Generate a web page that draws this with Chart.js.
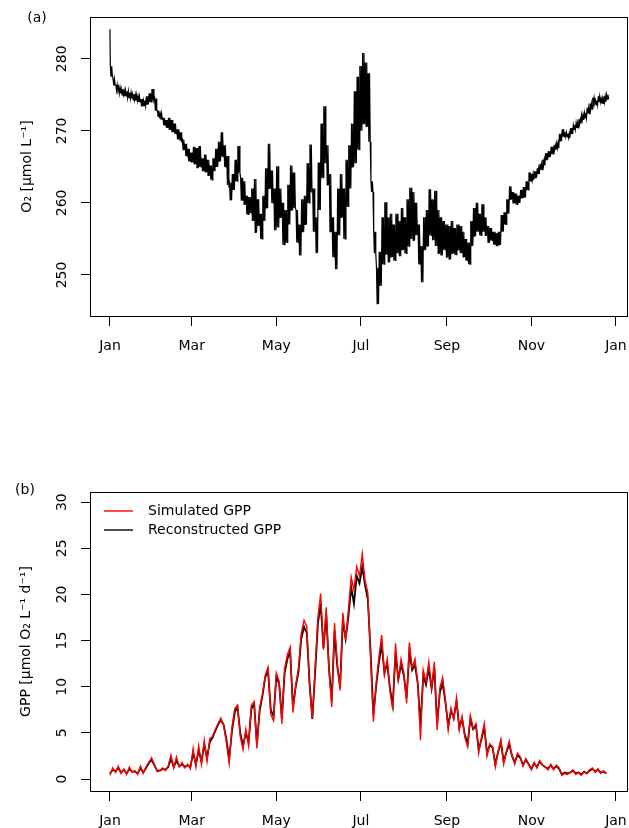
<!DOCTYPE html>
<html>
<head>
<meta charset="utf-8">
<script src="https://cdn.jsdelivr.net/npm/chart.js@4.4.1/dist/chart.umd.min.js"></script>
<style>
  body { margin: 0; background: #fff; }
  .panel { position: absolute; left: 0; width: 629px; height: 414px; }
</style>
</head>
<body>
<div class="panel" style="top:0"><canvas id="chart-o2" width="629" height="414"></canvas></div>
<div class="panel" style="top:414px"><canvas id="chart-gpp" width="629" height="414"></canvas></div>
<script>
/* =============================================
   O2 time series (a) and daily GPP (b)
   ============================================= */

// day-of-year of the month ticks and their labels
const monthTicks = [0, 59, 120, 181, 243, 304, 365];
const monthLabels = ['Jan', 'Mar', 'May', 'Jul', 'Sep', 'Nov', 'Jan'];
const o2Ticks = [250, 260, 270, 280];
const gppTicks = [0, 5, 10, 15, 20, 25, 30];

// values are read every 2 days
const sampleStepDays = 2;

// (a) first O2 reading, then high / low of the diel swing (µmol/L), days 0, 2, 4, ...
const o2Start = 284.1;
const o2High = [
  279.0, 277.2, 276.4, 276.0, 275.8, 275.6, 275.5, 275.3, 275.1, 275.0,
  274.8, 274.4, 274.2, 274.8, 275.2, 275.8, 274.5, 272.8, 272.4, 271.8,
  271.5, 271.8, 271.5, 271.0, 270.2, 269.8, 268.8, 268.2, 267.5, 267.0,
  267.8, 267.6, 267.9, 266.2, 266.7, 266.0, 265.2, 266.2, 267.5, 268.5,
  269.8, 268.0, 266.5, 262.8, 264.0, 266.0, 267.9, 263.5, 263.0, 261.0,
  260.8, 262.0, 263.3, 260.5, 258.5, 261.0, 264.8, 268.2, 264.5, 262.0,
  265.1, 262.0, 260.0, 259.0, 262.5, 265.2, 264.2, 259.0, 257.0, 260.5,
  261.0, 265.5, 268.1, 262.0, 258.0, 265.6, 271.0, 273.4, 268.0, 264.0,
  258.0, 256.0, 262.0, 264.0, 262.0, 266.0, 268.0, 271.0, 275.5, 277.5,
  279.0, 280.8, 279.5, 278.0, 263.0, 256.0, 251.0, 253.2, 258.0, 260.1,
  258.0, 258.5, 257.0, 258.5, 257.5, 259.3, 258.0, 260.5, 262.1, 261.5,
  260.0, 257.0, 254.0, 258.0, 259.0, 261.9, 260.5, 261.7, 259.0, 258.0,
  257.5, 257.0, 256.8, 257.5, 256.5, 257.0, 256.8, 256.0, 255.0, 254.5,
  257.5, 259.3, 260.0, 258.5, 259.8, 258.0, 256.8, 256.5, 256.0, 255.8,
  256.0, 258.3, 258.7, 260.5, 262.3, 261.5, 261.3, 261.0, 261.8, 262.2,
  263.0, 264.2, 264.0, 264.4, 264.8, 265.4, 266.0, 266.9, 267.2, 267.8,
  268.0, 268.3, 269.6, 270.2, 269.8, 269.6, 270.4, 270.8, 271.1, 271.6,
  272.2, 272.5, 273.2, 273.8, 274.6, 274.2, 274.8, 274.5, 274.8, 275.0
];
const o2Low = [
  277.6, 276.3, 275.6, 275.2, 275.0, 274.8, 274.6, 274.5, 274.3, 274.2,
  274.0, 273.4, 273.5, 273.7, 274.0, 274.2, 272.8, 272.0, 271.6, 270.8,
  270.4, 270.2, 269.8, 269.6, 268.8, 268.6, 267.4, 266.5, 265.8, 265.6,
  265.4, 264.8, 265.0, 264.4, 264.3, 263.8, 263.2, 264.4, 265.0, 265.8,
  266.4, 265.0, 262.5, 260.4, 261.8, 263.0, 264.2, 260.3, 259.8, 258.4,
  258.6, 257.5, 255.9, 256.8, 255.0, 257.5, 259.3, 262.0, 260.0, 256.2,
  256.6, 258.0, 254.2, 254.5, 257.0, 259.0, 259.3, 254.5, 252.7, 256.0,
  257.0, 260.0, 261.5, 256.0, 253.1, 259.0, 263.5, 265.5, 262.5, 256.0,
  252.5, 250.8, 255.5, 258.0, 255.0, 259.5, 262.0, 265.0, 265.5, 267.4,
  270.0, 271.0, 270.6, 268.5, 261.5, 253.0, 246.0, 248.5, 251.5, 252.8,
  251.8, 252.5, 252.0, 253.0, 252.6, 253.5, 253.0, 254.0, 255.0, 254.8,
  255.5, 251.5, 249.0, 253.5, 254.0, 255.5, 254.8, 254.0, 253.0, 252.7,
  253.5, 252.4, 252.2, 253.0, 252.8, 253.4, 253.0, 252.5, 252.0, 251.5,
  254.0, 255.4, 256.0, 255.5, 256.0, 255.5, 254.5, 254.8, 254.2, 254.0,
  254.2, 256.0, 257.0, 258.5, 260.5, 260.0, 259.8, 260.0, 260.6, 260.8,
  261.8, 263.0, 263.2, 263.5, 264.0, 264.6, 265.2, 266.0, 266.4, 266.8,
  267.4, 267.6, 268.6, 269.2, 269.2, 269.0, 269.6, 270.2, 270.4, 271.0,
  271.5, 271.8, 272.4, 273.0, 273.8, 273.6, 274.0, 273.8, 274.0, 274.4
];

// (b) GPP (µmol O2/L/d), days 0, 2, 4, ...
const gppSimulated = [
  0.4, 1.2, 0.7, 1.4, 0.6, 1.1, 0.5, 1.3, 0.7, 0.9,
  0.5, 1.4, 0.6, 1.3, 1.8, 2.3, 1.6, 0.8, 0.9, 1.2,
  0.9, 1.4, 2.6, 1.2, 2.4, 1.3, 1.8, 1.2, 1.6, 1.1,
  3.3, 1.3, 3.6, 1.6, 4.2, 1.9, 4.4, 4.6, 5.4, 6.0,
  6.6, 5.8, 4.0, 1.7, 5.6, 7.6, 8.0, 4.6, 3.2, 5.4,
  3.6, 8.0, 8.4, 3.3, 7.8, 9.2, 11.2, 12.1, 7.0, 6.3,
  11.5, 10.6, 6.0, 12.0, 13.5, 14.3, 7.2, 10.2, 12.0, 15.8,
  17.2, 16.5, 10.0, 6.6, 12.0, 17.5, 20.1, 14.0, 18.6, 11.8,
  7.8, 16.9, 12.5, 9.6, 18.0, 15.0, 18.3, 21.9, 20.5, 23.0,
  22.0, 24.4, 21.5, 20.2, 13.2, 6.2, 10.3, 13.2, 15.6, 11.3,
  13.0, 9.5, 7.5, 14.7, 10.6, 13.0, 11.5, 8.2, 14.8, 12.0,
  13.0, 10.5, 4.2, 11.8, 10.5, 12.7, 9.9, 12.7, 5.3, 9.9,
  11.0, 8.5, 5.3, 7.7, 6.5, 8.8, 5.3, 6.8, 4.5, 3.5,
  6.9, 5.5, 6.0, 2.8, 4.5, 6.0, 2.5, 3.8, 3.5, 1.3,
  3.0, 4.3, 1.6, 3.0, 4.1, 2.5, 1.6, 2.8, 2.4, 1.4,
  2.2, 1.6, 1.0, 1.8, 1.2, 2.0, 1.5, 1.3, 1.0, 1.6,
  1.0, 1.5, 1.2, 0.4, 0.6, 0.5, 0.7, 1.0, 0.5, 0.7,
  0.4, 0.8, 0.6, 1.0, 1.2, 0.7, 1.1, 0.6, 0.9, 0.6
];
const gppReconstructed = [
  0.6, 1.0, 0.8, 1.2, 0.7, 1.0, 0.6, 1.1, 0.8, 0.8,
  0.6, 1.2, 0.7, 1.2, 1.7, 2.1, 1.5, 0.9, 0.9, 1.1,
  1.0, 1.3, 2.2, 1.3, 2.0, 1.4, 1.6, 1.3, 1.5, 1.3,
  2.8, 1.6, 3.1, 1.9, 3.7, 2.3, 4.0, 4.5, 5.2, 5.9,
  6.4, 5.9, 4.3, 2.2, 5.2, 7.2, 7.8, 5.0, 3.6, 5.0,
  4.0, 7.6, 8.1, 3.8, 7.4, 9.0, 11.0, 11.8, 7.5, 6.8,
  11.0, 10.4, 6.6, 11.5, 13.0, 13.8, 7.8, 10.0, 11.6, 15.2,
  16.5, 15.8, 10.4, 6.5, 11.5, 16.8, 19.0, 14.2, 17.8, 12.0,
  8.5, 16.0, 12.2, 10.0, 17.2, 15.2, 17.6, 20.8, 19.0, 22.0,
  21.2, 23.0, 21.0, 19.5, 13.8, 7.0, 10.0, 12.6, 14.6, 11.5,
  12.5, 9.8, 8.0, 13.6, 10.8, 12.4, 11.2, 8.8, 13.8, 11.8,
  12.4, 10.4, 5.8, 11.2, 10.2, 12.0, 9.8, 12.0, 6.0, 9.4,
  10.4, 8.3, 5.8, 7.4, 6.6, 8.4, 5.6, 6.5, 4.8, 3.8,
  6.5, 5.4, 5.8, 3.2, 4.3, 5.6, 2.8, 3.7, 3.4, 1.6,
  2.9, 4.0, 1.9, 2.9, 3.8, 2.5, 1.8, 2.6, 2.3, 1.5,
  2.1, 1.6, 1.1, 1.7, 1.3, 1.9, 1.5, 1.3, 1.1, 1.5,
  1.1, 1.4, 1.1, 0.5, 0.7, 0.6, 0.7, 0.9, 0.6, 0.7,
  0.5, 0.8, 0.6, 0.9, 1.1, 0.8, 1.0, 0.7, 0.8, 0.6
];

const FONT = 'DejaVu Sans';

// each 2-day reading covers two diel cycles: high at midday, low at night
const o2Points = [{ x: 0, y: o2Start }];
o2High.forEach((h, i) => {
  const d = i * sampleStepDays;
  o2Points.push({ x: d + 0.25, y: h });
  o2Points.push({ x: d + 0.75, y: o2Low[i] });
  o2Points.push({ x: d + 1.25, y: h });
  o2Points.push({ x: d + 1.75, y: o2Low[i] });
});
const toPoints = arr => arr.map((v, i) => ({ x: i * sampleStepDays, y: v }));

function xScale(height) {
  return {
    type: 'linear',
    min: -14.4,
    max: 373.7,
    afterBuildTicks: s => { s.ticks = monthTicks.map(v => ({ value: v })); },
    afterFit: s => {
      s.height = height;
      // keep the plot box fixed, labels fit inside the margins
      s.paddingLeft = 0;
      s.paddingRight = 0;
    },
    grid: { drawOnChartArea: false, drawTicks: true, tickLength: 10, color: '#000', lineWidth: 1 },
    border: { display: false },
    ticks: {
      autoSkip: false, maxRotation: 0, minRotation: 0, padding: 12,
      color: '#000', font: { family: FONT, size: 14 },
      callback: v => monthLabels[monthTicks.indexOf(v)]
    }
  };
}

function yScale(min, max, ticks) {
  return {
    type: 'linear',
    min: min,
    max: max,
    afterBuildTicks: s => { s.ticks = ticks.map(v => ({ value: v })); },
    afterFit: s => { s.width = 90; s.paddingTop = 0; s.paddingBottom = 0; },
    grid: { drawOnChartArea: false, drawTicks: true, tickLength: 9, color: '#000', lineWidth: 1 },
    border: { display: false },
    ticks: { display: false }
  };
}

// box, rotated y labels, axis title, panel tag and legend
function rStyle(cfg) {
  return {
    id: 'rStyle',
    afterDraw(chart) {
      const { ctx, chartArea: a, scales: { y } } = chart;
      ctx.save();
      ctx.strokeStyle = '#000';
      ctx.lineWidth = 1;
      ctx.strokeRect(Math.round(a.left) + 0.5, Math.round(a.top) + 0.5,
        Math.round(a.right - a.left) - 1, Math.round(a.bottom - a.top));

      ctx.fillStyle = '#000';
      ctx.font = '14px "' + FONT + '"';
      ctx.textAlign = 'center';
      ctx.textBaseline = 'middle';
      cfg.yTicks.forEach(v => {
        ctx.save();
        ctx.translate(62, y.getPixelForValue(v));
        ctx.rotate(-Math.PI / 2);
        ctx.fillText(String(v), 0, 0);
        ctx.restore();
      });

      ctx.save();
      ctx.translate(cfg.titleX, (a.top + a.bottom) / 2);
      ctx.rotate(-Math.PI / 2);
      ctx.fillText(cfg.title, 0, 0);
      ctx.restore();

      ctx.fillText(cfg.tag, cfg.tagX, cfg.tagY);

      if (cfg.legend) {
        ctx.textAlign = 'left';
        cfg.legend.forEach(item => {
          ctx.strokeStyle = item.color;
          ctx.lineWidth = 1.4;
          ctx.beginPath();
          ctx.moveTo(104, item.y);
          ctx.lineTo(133, item.y);
          ctx.stroke();
          ctx.fillText(item.label, 148, item.y);
        });
      }
      ctx.restore();
    }
  };
}

const baseOptions = {
  responsive: false,
  animation: false,
  devicePixelRatio: 1,
  plugins: { legend: { display: false }, tooltip: { enabled: false } },
  elements: { point: { radius: 0 }, line: { tension: 0 } }
};

// ==========================================
// Panel (a): O2
// ==========================================
new Chart(document.getElementById('chart-o2'), {
  type: 'line',
  data: {
    datasets: [{
      data: o2Points,
      borderColor: '#000',
      borderWidth: 1.2
    }]
  },
  options: Object.assign({}, baseOptions, {
    layout: { padding: { top: 17, right: 1, bottom: 0, left: 0 } },
    scales: { x: xScale(98), y: yScale(244.3, 285.8, o2Ticks) }
  }),
  plugins: [rStyle({
    yTicks: o2Ticks,
    title: 'O₂ [µmol L⁻¹]',
    titleX: 27,
    tag: '(a)', tagX: 37, tagY: 18
  })]
});

// ==========================================
// Panel (b): GPP
// ==========================================
new Chart(document.getElementById('chart-gpp'), {
  type: 'line',
  data: {
    datasets: [{
      label: 'Simulated GPP',
      data: toPoints(gppSimulated),
      borderColor: '#ff0000',
      borderWidth: 1.4
    }, {
      label: 'Reconstructed GPP',
      data: toPoints(gppReconstructed),
      borderColor: '#000',
      borderWidth: 1.8
    }]
  },
  options: Object.assign({}, baseOptions, {
    layout: { padding: { top: 78, right: 1, bottom: 0, left: 0 } },
    scales: { x: xScale(37), y: yScale(-1.3, 31.1, gppTicks) }
  }),
  plugins: [rStyle({
    yTicks: gppTicks,
    title: 'GPP [µmol O₂ L⁻¹ d⁻¹]',
    titleX: 26,
    tag: '(b)', tagX: 25, tagY: 76,
    legend: [
      { label: 'Simulated GPP', color: '#ff0000', y: 97 },
      { label: 'Reconstructed GPP', color: '#000', y: 116 }
    ]
  })]
});
</script>
</body>
</html>
